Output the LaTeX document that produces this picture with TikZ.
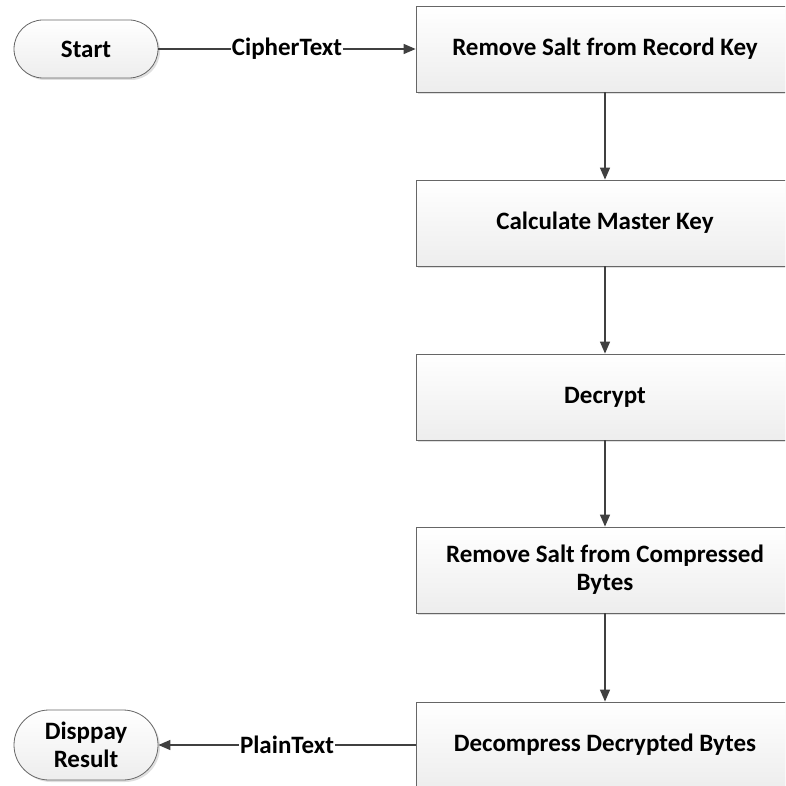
\documentclass[tikz,border=0pt]{standalone}
\usepackage{fontspec}
\setmainfont{Carlito}
\usepackage{tikz}
\usetikzlibrary{arrows.meta, positioning, shadows}
\definecolor{linegray}{HTML}{404040}
\tikzset{%
	procbox/.style={
		rectangle,
		draw=linegray!80,
		line width=0.8pt,
		top color=white,
		bottom color=black!7,
		minimum width=378pt,
		minimum height=86pt,
		align=center,
		font=\fontsize{25}{28}\selectfont\bfseries,
		drop shadow={shadow xshift=2pt, shadow yshift=-2pt, fill=black!25}
	},
	terminal/.style={
		procbox,
		rounded corners=29pt,
		minimum width=144pt,
		minimum height=58pt,
		inner sep=0pt
	},
	flow/.style={
		-{Triangle[length=12pt, width=10pt]},
		draw=linegray,
		line width=1.4pt
	},
	flowlabel/.style={
		fill=white,
		inner sep=1pt,
		font=\fontsize{25}{28}\selectfont\bfseries
	},
}

\begin{document}
\begin{tikzpicture}[x=1pt, y=-1pt]
	% picture frame, boxes run out past the right and bottom edge
	\path[use as bounding box, clip] (0,0) rectangle (785,786);

	% Draw the terminals
	\node[terminal] (start) at (86,49) {Start};
	\node[terminal, minimum height=70pt, rounded corners=35pt] (display) at (86,745) {Disppay\\Result};

	% Draw the process boxes
	\node[procbox] (removekey) at (605,49) {Remove Salt from Record Key};
	\node[procbox] (masterkey) at (605,223) {Calculate Master Key};
	\node[procbox] (decrypt) at (605,397) {Decrypt};
	\node[procbox] (removesalt) at (605,570) {Remove Salt from Compressed\\Bytes};
	\node[procbox] (decompress) at (605,745) {Decompress Decrypted Bytes};

	% Draw the arrows
	\draw[flow] (start) -- node[flowlabel] {CipherText} (removekey);
	\draw[flow] (removekey) -- (masterkey);
	\draw[flow] (masterkey) -- (decrypt);
	\draw[flow] (decrypt) -- (removesalt);
	\draw[flow] (removesalt) -- (decompress);
	\draw[flow] (decompress) -- node[flowlabel] {PlainText} (display);
\end{tikzpicture}
\end{document}
